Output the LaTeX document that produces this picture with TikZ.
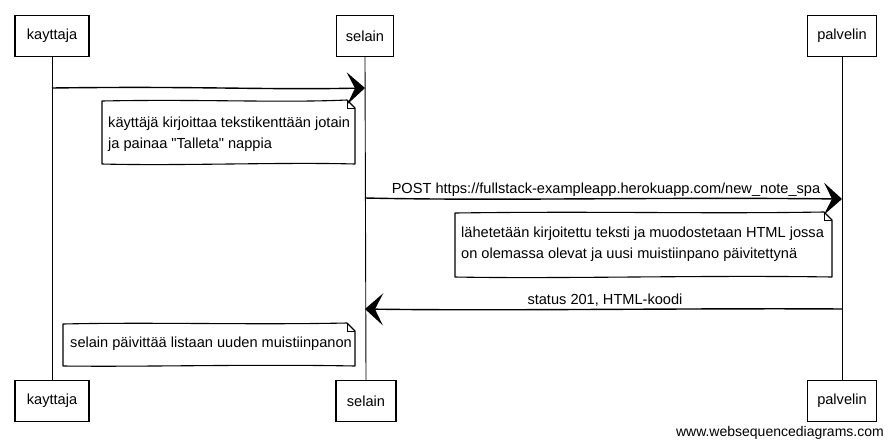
\documentclass[tikz,border=0pt]{standalone}
\usepackage{fontspec}
\setmainfont{Liberation Sans}[Ligatures=TeXOff]
\usetikzlibrary{arrows.meta}
\begin{document}
\begin{tikzpicture}[x=1pt,y=-1pt,
  font=\fontsize{14.6}{20.5}\selectfont,
  actor/.style={draw, line width=1.1pt, fill=white, minimum height=41pt, inner sep=0pt},
  life/.style={line width=0.9pt},
  msg/.style={line width=1.4pt, -{Stealth[length=18pt,width=32pt,inset=8pt]}},
  notetext/.style={align=left, inner sep=0pt, anchor=north west},
  notebox/.style={draw, line width=1.1pt, fill=white, line join=round},
  fold/.style={line width=0.7pt},
  lbl/.style={inner sep=0pt}]
\useasboundingbox (0,0) rectangle (892,445);

% actors
\node[actor, minimum width=74pt] (kt) at (52,36) {kayttaja};
\node[actor, minimum width=57pt] (st) at (365,36) {selain};
\node[actor, minimum width=69pt] (pt) at (842,36) {palvelin};
\node[actor, minimum width=74pt] (kb) at (52,401) {kayttaja};
\node[actor, minimum width=60pt] (sb) at (366,401) {selain};
\node[actor, minimum width=69pt] (pb) at (842,401) {palvelin};

% lifelines
\draw[life] (kt.south) -- (kb.north);
\draw[life] (st.south) -- (sb.north);
\draw[life] (pt.south) -- (pb.north);

% note 1
\draw[notebox] (102,101) .. controls (200,99) and (280,103) .. (347,100) -- (355,108) -- (355,164)
  .. controls (280,162) and (180,166) .. (102,164) -- cycle;
\draw[fold] (347,100) -- (347,108) -- (355,108);
\node[notetext] (n1) at (108,117) {käyttäjä kirjoittaa tekstikenttään jotain\\ja painaa "Talleta" nappia};

% message 1
\coordinate (m1s) at (kt.south |- 0,88);
\coordinate (m1e) at (st.south |- 0,88);
\draw[msg] (m1s) .. controls (200,86) and (260,90) .. (m1e);

% note 2
\draw[notebox] (455,213) .. controls (600,211) and (700,214) .. (824,212) -- (832,220) -- (832,277)
  .. controls (700,275) and (560,279) .. (455,277) -- cycle;
\draw[fold] (824,212) -- (824,220) -- (832,220);
\node[notetext] (n2) at (461,227) {lähetetään kirjoitettu teksti ja muodostetaan HTML jossa\\on olemassa olevat ja uusi muistiinpano päivitettynä};

% message 2
\coordinate (m2s) at (st.south |- 0,198);
\coordinate (m2e) at (pt.south |- 0,199);
\draw[msg] (m2s) .. controls (500,201) and (650,197) .. (m2e);
\node[lbl, anchor=base] (l2) at (606,193) {POST https://fullstack-exampleapp.herokuapp.com/new\_note\_spa};

% message 3
\coordinate (m3s) at (pt.south |- 0,309);
\coordinate (m3e) at (st.south |- 0,309);
\draw[msg] (m3s) .. controls (700,308) and (500,311) .. (m3e);
\node[lbl, anchor=base] (l3) at (605,304) {status 201, HTML-koodi};

% note 3
\draw[notebox] (63,324) .. controls (150,322) and (250,325) .. (347,323) -- (355,331) -- (355,366)
  .. controls (250,364) and (150,367) .. (63,366) -- cycle;
\draw[fold] (347,323) -- (347,331) -- (355,331);
\node[notetext] (n3) at (70,337) {selain päivittää listaan uuden muistiinpanon};

% watermark
\node[lbl, anchor=base east, font=\fontsize{14}{16}\selectfont] (wm) at (884,436) {www.websequencediagrams.com};
\end{tikzpicture}
\end{document}
